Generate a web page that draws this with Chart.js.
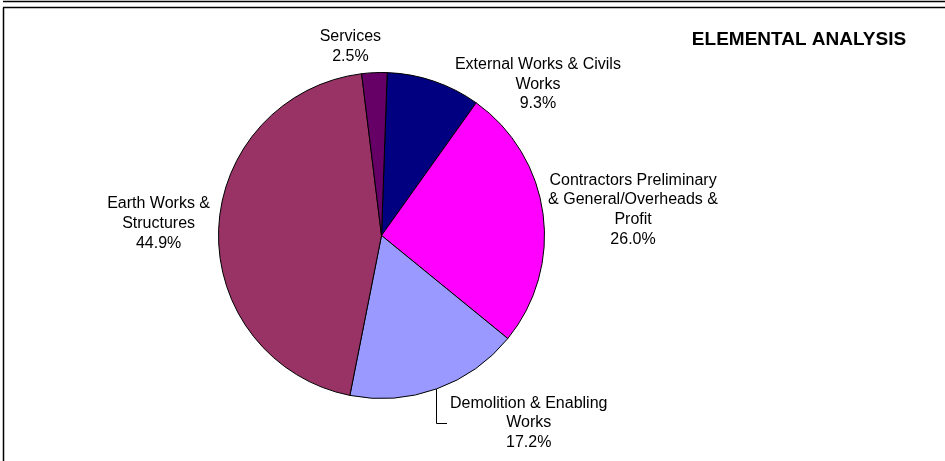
<!DOCTYPE html>
<html>
<head>
<meta charset="utf-8">
<title>Elemental Analysis</title>
<script src="https://cdn.jsdelivr.net/npm/chart.js@4.4.1/dist/chart.umd.min.js"></script>
<style>
    html, body { margin: 0; padding: 0; background: #ffffff; }
    #wrap { width: 945px; height: 461px; position: relative; }
</style>
</head>
<body>
<div id="wrap"><canvas id="elementalChart" width="945" height="461"></canvas></div>
<script>
// cost elements, clockwise from 12 o'clock
const elementNames = [
    ['External Works & Civils', 'Works'],
    ['Contractors Preliminary', '& General/Overheads &', 'Profit'],
    ['Demolition & Enabling', 'Works'],
    ['Earth Works &', 'Structures'],
    ['Services']
];
const elementShares = [9.3, 26.0, 17.2, 44.9, 2.5];
const sliceColours = ['#000080', '#FF00FF', '#9999FF', '#993366', '#660066'];

// where each label block sits relative to the middle of its slice's rim
const labelNudge = [
    { dx: 104, dy: 3 },
    { dx: 90, dy: -4 },
    { dx: 92, dy: 34, leader: true },
    { dx: -60, dy: -6 },
    { dx: -24, dy: -26 }
];

const LABEL_FONT = '16px "Liberation Sans", Arial, sans-serif';
const LINE_H = 19.6;

// outer frame lines
const framePlugin = {
    id: 'frame',
    beforeDraw(chart) {
        const ctx = chart.ctx;
        ctx.save();
        ctx.strokeStyle = '#000';
        ctx.lineWidth = 1.5;
        ctx.beginPath();
        ctx.moveTo(3, 1.5); ctx.lineTo(chart.width, 1.5);
        ctx.moveTo(3, 7.5); ctx.lineTo(chart.width, 7.5);
        ctx.moveTo(3.5, 7.5); ctx.lineTo(3.5, chart.height);
        ctx.stroke();
        ctx.restore();
    }
};

// category name + percentage next to each slice
const sliceLabels = {
    id: 'sliceLabels',
    afterDatasetsDraw(chart) {
        const ctx = chart.ctx;
        const arcs = chart.getDatasetMeta(0).data;
        ctx.save();
        ctx.font = LABEL_FONT;
        ctx.fillStyle = '#000';
        ctx.textAlign = 'center';
        ctx.textBaseline = 'middle';

        arcs.forEach((arc, i) => {
            const { x, y, startAngle, endAngle, outerRadius } = arc.getProps(['x', 'y', 'startAngle', 'endAngle', 'outerRadius'], true);
            const mid = (startAngle + endAngle) / 2;
            const rimX = x + Math.cos(mid) * outerRadius;
            const rimY = y + Math.sin(mid) * outerRadius;
            const lines = elementNames[i].concat([elementShares[i].toFixed(1) + '%']);
            const cx = rimX + labelNudge[i].dx;
            const cy = rimY + labelNudge[i].dy;
            const top = cy - (lines.length - 1) * LINE_H / 2;

            lines.forEach((t, k) => ctx.fillText(t, cx, top + k * LINE_H));

            if (labelNudge[i].leader) {
                const w = Math.max(...lines.map(t => ctx.measureText(t).width));
                const left = cx - w / 2;
                const lx = Math.round(left - 14) + 0.5;
                const ly = Math.round(cy) + 0.5;
                const edgeY = y + Math.sqrt(outerRadius * outerRadius - (lx - x) * (lx - x));
                ctx.strokeStyle = '#000';
                ctx.lineWidth = 1;
                ctx.beginPath();
                ctx.moveTo(lx, edgeY);
                ctx.lineTo(lx, ly);
                ctx.lineTo(left - 3, ly);
                ctx.stroke();
            }
        });

        // heading
        ctx.font = 'bold 19px "Liberation Sans", Arial, sans-serif';
        ctx.fillText('ELEMENTAL ANALYSIS', 799, 39.5);
        ctx.restore();
    }
};

new Chart(document.getElementById('elementalChart'), {
    type: 'pie',
    data: {
        labels: elementNames.map(n => n.join(' ')),
        datasets: [{
            data: elementShares,
            backgroundColor: sliceColours,
            borderColor: '#000',
            borderWidth: 1
        }]
    },
    options: {
        responsive: false,
        animation: false,
        rotation: 2,
        layout: { padding: { left: 218, top: 72, right: 400, bottom: 62 } },
        plugins: {
            legend: { display: false },
            tooltip: { enabled: false }
        }
    },
    plugins: [framePlugin, sliceLabels]
});
</script>
</body>
</html>
